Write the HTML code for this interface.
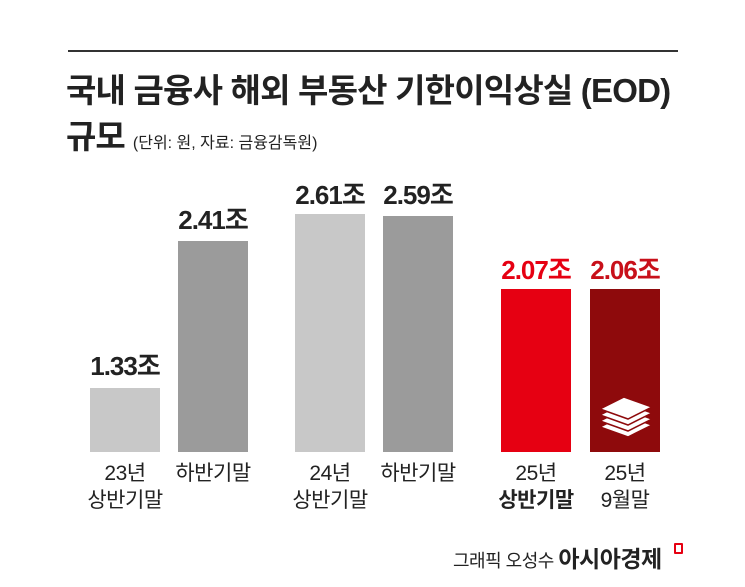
<!DOCTYPE html><html><head><meta charset="utf-8"><style>
body{margin:0;width:745px;height:587px;background:#fff;font-family:"Liberation Sans","Noto Sans CJK KR",sans-serif;position:relative;overflow:hidden;color:#222}
.a{position:absolute}
.bar{position:absolute;bottom:135px;width:70px}
.v{position:absolute;width:110px;text-align:center;font-weight:bold;font-size:26px;letter-spacing:-1px}
.c{position:absolute;width:110px;text-align:center;font-size:21px;line-height:27px;letter-spacing:-0.5px}
</style></head><body>
<div class="a" style="left:68px;top:50px;width:610px;height:2px;background:#333"></div>
<div class="a" style="left:66px;top:64px;font-size:33px;font-weight:bold;letter-spacing:-0.8px;white-space:nowrap">국내 금융사 해외 부동산 기한이익상실 (EOD)</div>
<div class="a" style="left:66px;top:110px;font-size:33px;font-weight:bold;letter-spacing:-1px;white-space:nowrap">규모 <span style="font-size:16px;font-weight:normal;letter-spacing:0">(단위: 원, 자료: 금융감독원)</span></div>

<div class="bar" style="left:90px;height:64px;background:#c8c8c8"></div>
<div class="bar" style="left:178px;height:211px;background:#9b9b9b"></div>
<div class="bar" style="left:295px;height:238px;background:#c8c8c8"></div>
<div class="bar" style="left:383px;height:236px;background:#9b9b9b"></div>
<div class="bar" style="left:501px;height:163px;background:#e60012"></div>
<div class="bar" style="left:590px;height:163px;background:#8e0a0c"></div>
<svg class="a" style="left:598px;top:395px" width="56" height="46" viewBox="0 0 56 46">
<g fill="#fff" stroke="#8e0a0c" stroke-width="1.5">
<path d="M2 32 L30 42 L54 30 L26 20Z"/><path d="M2 26 L30 36 L54 24 L26 14Z"/><path d="M2 20 L30 30 L54 18 L26 8Z"/><path d="M2 14 L30 24 L54 12 L26 2Z"/></g></svg>

<div class="v" style="left:70px;top:346px">1.33조</div>
<div class="v" style="left:158px;top:200px">2.41조</div>
<div class="v" style="left:275px;top:175px">2.61조</div>
<div class="v" style="left:363px;top:175px">2.59조</div>
<div class="v" style="left:481px;top:250px;color:#e60012">2.07조</div>
<div class="v" style="left:570px;top:250px;color:#c8101a">2.06조</div>

<div class="c" style="left:70px;top:460px">23년<br>상반기말</div>
<div class="c" style="left:158px;top:460px">하반기말</div>
<div class="c" style="left:275px;top:460px">24년<br>상반기말</div>
<div class="c" style="left:363px;top:460px">하반기말</div>
<div class="c" style="left:481px;top:460px">25년<br><b>상반기말</b></div>
<div class="c" style="left:570px;top:460px">25년<br>9월말</div>

<div class="a" style="left:453px;top:540px;font-size:18px;white-space:nowrap;letter-spacing:-0.5px">그래픽 오성수 <b style="font-size:23px">아시아경제</b></div>
<div class="a" style="left:674px;top:543px;width:5px;height:7px;border:2px solid #e60012;border-radius:1px"></div>
</body></html>
